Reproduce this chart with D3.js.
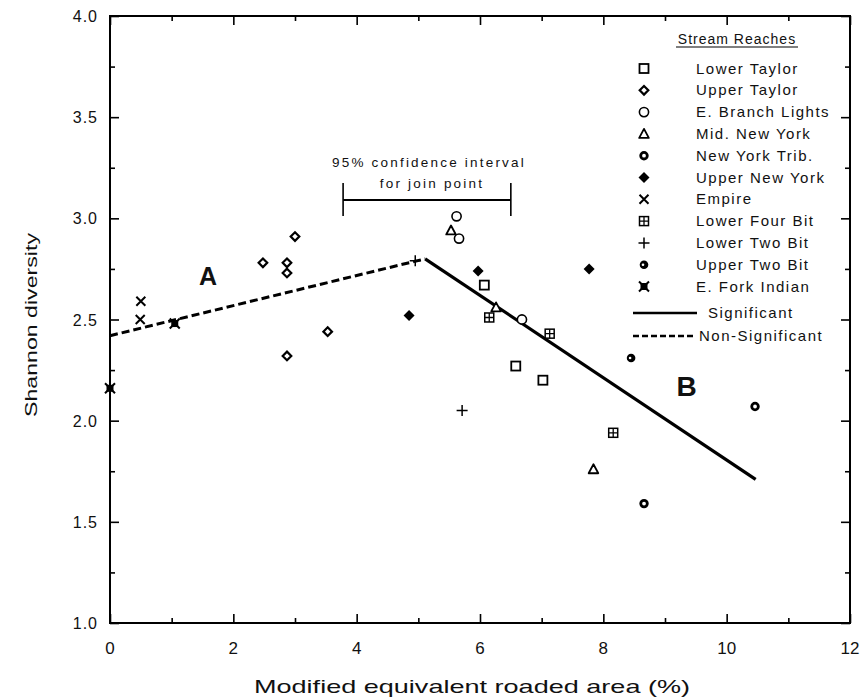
<!DOCTYPE html>
<html>
<head>
<meta charset="utf-8">
<script src="https://cdn.jsdelivr.net/npm/d3@7"></script>
<style>
body { margin: 0; background: #fff; }
text { font-family: "Liberation Sans", Arial, sans-serif; fill: #111; }
</style>
</head>
<body>
<script>
//size of the page
var width = 866;
var height = 700;

//data, one array per stream reach  [x = roaded area %, y = shannon]
var lowerTaylor = [[6.07, 2.67], [6.58, 2.27], [7.02, 2.20]];
var upperTaylor = [[2.48, 2.78], [2.87, 2.78], [2.87, 2.73], [2.87, 2.32], [3.53, 2.44], [3.00, 2.91]];
var eBranchLights = [[5.62, 3.01], [5.66, 2.90], [6.68, 2.50]];
var midNewYork = [[5.53, 2.94], [6.26, 2.56], [7.84, 1.76]];
var newYorkTrib = [[8.66, 1.59], [10.46, 2.07]];
var upperNewYork = [[4.85, 2.52], [5.97, 2.74], [7.77, 2.75]];
var empire = [[0.50, 2.59], [0.49, 2.50]];
var lowerFourBit = [[6.15, 2.51], [7.13, 2.43], [8.16, 1.94]];
var lowerTwoBit = [[5.71, 2.05], [4.95, 2.79]];
var upperTwoBit = [[8.45, 2.31]];
var eForkIndian = [[0.00, 2.16], [1.05, 2.48]];

var reachNames = ["Lower Taylor", "Upper Taylor", "E. Branch Lights", "Mid. New York", "New York Trib.",
                  "Upper New York", "Empire", "Lower Four Bit", "Lower Two Bit", "Upper Two Bit", "E. Fork Indian"];
var reachData = [lowerTaylor, upperTaylor, eBranchLights, midNewYork, newYorkTrib,
                 upperNewYork, empire, lowerFourBit, lowerTwoBit, upperTwoBit, eForkIndian];

//fitted segmented regression
var lineA = [[0, 2.42], [5.11, 2.80]];      //non-significant
var lineB = [[5.11, 2.80], [10.47, 1.71]];  //significant
var ciJoin = [3.78, 6.50];                   //95% CI of the join point
var ciLevel = 3.09;

//axis ticks
var xTicks = [0, 2, 4, 6, 8, 10, 12];
var xMinor = [1, 3, 5, 7, 9, 11];
var yTicks = [1.0, 1.5, 2.0, 2.5, 3.0, 3.5, 4.0];
var yMinor = [1.25, 1.75, 2.25, 2.75, 3.25, 3.75];

//symbol for every reach, same order as reachNames
var symbolKinds = ["square", "diamond", "circle", "triangle", "ring", "fdiamond", "cross", "boxplus", "plus", "dot", "star"];

var svg = d3.select("body").append("svg")
    .attr("width", width)
    .attr("height", height);

var x = d3.scaleLinear().domain([0, 12]).range([110, 850]);
var y = d3.scaleLinear().domain([1, 4]).range([623, 16]);

//frame
svg.append("rect")
    .attr("x", x(0)).attr("y", y(4))
    .attr("width", x(12) - x(0)).attr("height", y(1) - y(4))
    .attr("fill", "none").attr("stroke", "#000").attr("stroke-width", 2);

//ticks, all pointing inward
function ticks(axisFn, scale, vals, size, transform) {
    var g = svg.append("g").attr("transform", transform)
        .call(axisFn(scale).tickValues(vals).tickSize(size).tickFormat(""));
    g.select(".domain").remove();
    g.selectAll("line").attr("stroke", "#000").attr("stroke-width", 1.6);
    return g;
}
ticks(d3.axisBottom, x, xTicks, -9, "translate(0," + y(1) + ")");
ticks(d3.axisBottom, x, xMinor, -5, "translate(0," + y(1) + ")");
ticks(d3.axisTop, x, xTicks, -9, "translate(0," + y(4) + ")");
ticks(d3.axisTop, x, xMinor, -5, "translate(0," + y(4) + ")");
ticks(d3.axisLeft, y, yTicks, -9, "translate(" + x(0) + ",0)");
ticks(d3.axisLeft, y, yMinor, -5, "translate(" + x(0) + ",0)");
ticks(d3.axisRight, y, yTicks, -9, "translate(" + x(12) + ",0)");
ticks(d3.axisRight, y, yMinor, -5, "translate(" + x(12) + ",0)");

//tick labels
svg.append("g").selectAll("text")
    .data(xTicks).enter().append("text")
    .attr("x", function (d) { return x(d); })
    .attr("y", 654)
    .attr("text-anchor", "middle")
    .style("font-size", "17px")
    .text(function (d) { return d; });

svg.append("g").selectAll("text")
    .data(yTicks).enter().append("text")
    .attr("x", 98)
    .attr("y", function (d) { return y(d) + 6; })
    .attr("text-anchor", "end")
    .style("font-size", "16px")
    .style("letter-spacing", "1px")
    .text(function (d) { return d3.format(".1f")(d); });

//axis titles
svg.append("text")
    .attr("x", 472).attr("y", 693)
    .attr("text-anchor", "middle")
    .attr("textLength", 436).attr("lengthAdjust", "spacingAndGlyphs")
    .style("font-size", "19px")
    .text("Modified equivalent roaded area (%)");

svg.append("text")
    .attr("transform", "translate(37,325) rotate(-90)")
    .attr("text-anchor", "middle")
    .attr("textLength", 184).attr("lengthAdjust", "spacingAndGlyphs")
    .style("font-size", "17px")
    .text("Shannon diversity");

//regression lines
var line = d3.line()
    .x(function (d) { return x(d[0]); })
    .y(function (d) { return y(d[1]); });

svg.append("path").datum(lineA)
    .attr("d", line).attr("fill", "none")
    .attr("stroke", "#000").attr("stroke-width", 3)
    .attr("stroke-dasharray", "8,4");

svg.append("path").datum(lineB)
    .attr("d", line).attr("fill", "none")
    .attr("stroke", "#000").attr("stroke-width", 3.2)
    .attr("stroke-linejoin", "miter");

//confidence interval bar
var ci = svg.append("g");
ci.append("line")
    .attr("x1", x(ciJoin[0])).attr("x2", x(ciJoin[1]))
    .attr("y1", y(ciLevel)).attr("y2", y(ciLevel))
    .attr("stroke", "#000").attr("stroke-width", 2);
ci.selectAll(".cap").data(ciJoin).enter().append("line")
    .attr("x1", function (d) { return x(d); }).attr("x2", function (d) { return x(d); })
    .attr("y1", y(ciLevel) - 17).attr("y2", y(ciLevel) + 16)
    .attr("stroke", "#000").attr("stroke-width", 1.6);
ci.append("text")
    .attr("x", 429).attr("y", 167)
    .attr("text-anchor", "middle")
    .style("font-size", "13.5px").style("letter-spacing", "2.2px")
    .text("95% confidence interval");
ci.append("text")
    .attr("x", 432).attr("y", 188)
    .attr("text-anchor", "middle")
    .style("font-size", "13.5px").style("letter-spacing", "2.2px")
    .text("for join point");

//segment labels
svg.append("text").attr("x", x(1.59)).attr("y", y(2.67))
    .attr("text-anchor", "middle")
    .style("font-size", "25px").style("font-weight", "bold")
    .text("A");
svg.append("text").attr("x", x(9.35)).attr("y", y(2.12))
    .attr("text-anchor", "middle")
    .style("font-size", "28px").style("font-weight", "bold")
    .text("B");

//draws one symbol at the origin of the group
function marker(g, kind) {
    var diamond = function (r) { return "M0," + (-r) + "L" + r + ",0L0," + r + "L" + (-r) + ",0Z"; };
    if (kind == "square") {
        g.append("rect").attr("x", -4.5).attr("y", -4.5).attr("width", 9).attr("height", 9)
            .attr("fill", "#fff").attr("stroke", "#000").attr("stroke-width", 1.8);
    } else if (kind == "diamond") {
        g.append("path").attr("d", diamond(4.3))
            .attr("fill", "#fff").attr("stroke", "#000").attr("stroke-width", 2.2);
    } else if (kind == "circle") {
        g.append("circle").attr("r", 4.6)
            .attr("fill", "#fff").attr("stroke", "#000").attr("stroke-width", 1.6);
    } else if (kind == "triangle") {
        g.append("path").attr("d", "M0,-5L4.8,4L-4.8,4Z")
            .attr("fill", "#fff").attr("stroke", "#000").attr("stroke-width", 1.8)
            .attr("stroke-linejoin", "round");
    } else if (kind == "ring") {
        g.append("circle").attr("r", 3.3)
            .attr("fill", "#fff").attr("stroke", "#000").attr("stroke-width", 2.8);
    } else if (kind == "fdiamond") {
        g.append("path").attr("d", diamond(5.5)).attr("fill", "#000");
    } else if (kind == "cross") {
        g.append("path").attr("d", "M-4.5,-4.5L4.5,4.5M-4.5,4.5L4.5,-4.5")
            .attr("stroke", "#000").attr("stroke-width", 2);
    } else if (kind == "boxplus") {
        g.append("rect").attr("x", -4.5).attr("y", -4.5).attr("width", 9).attr("height", 9)
            .attr("fill", "#fff").attr("stroke", "#000").attr("stroke-width", 1.5);
        g.append("path").attr("d", "M0,-4.5V4.5M-4.5,0H4.5")
            .attr("stroke", "#000").attr("stroke-width", 1.3);
    } else if (kind == "plus") {
        g.append("path").attr("d", "M-5.5,0H5.5M0,-5.5V5.5")
            .attr("stroke", "#000").attr("stroke-width", 1.5);
    } else if (kind == "dot") {
        g.append("circle").attr("r", 4.3).attr("fill", "#000");
        g.append("circle").attr("cx", -1).attr("r", 1.3).attr("fill", "#fff");
    } else if (kind == "star") {
        g.append("rect").attr("x", -3.5).attr("y", -3.5).attr("width", 7).attr("height", 7).attr("fill", "#000");
        g.append("path").attr("d", "M-5,-5L5,5M-5,5L5,-5")
            .attr("stroke", "#000").attr("stroke-width", 2);
    }
}

//data points
reachData.forEach(function (pts, i) {
    svg.append("g").selectAll("g")
        .data(pts).enter().append("g")
        .attr("transform", function (d) { return "translate(" + x(d[0]) + "," + y(d[1]) + ")"; })
        .each(function () { marker(d3.select(this), symbolKinds[i]); });
});

//legend
var legend = svg.append("g");
legend.append("text")
    .attr("x", 737).attr("y", 44)
    .attr("text-anchor", "middle")
    .style("font-size", "14px").style("letter-spacing", "1px")
    .text("Stream Reaches");
legend.append("line")
    .attr("x1", 676).attr("x2", 798).attr("y1", 47).attr("y2", 47)
    .attr("stroke", "#000").attr("stroke-width", 1.2);

var rows = legend.selectAll(".row")
    .data(reachNames).enter().append("g")
    .attr("transform", function (d, i) { return "translate(0," + (68.5 + i * 21.8) + ")"; });
rows.append("g").attr("transform", "translate(644,0)")
    .each(function (d, i) { marker(d3.select(this), symbolKinds[i]); });
rows.append("text")
    .attr("x", 696).attr("y", 5)
    .style("font-size", "15px").style("letter-spacing", "1.5px")
    .text(function (d) { return d; });

legend.append("line")
    .attr("x1", 633).attr("x2", 697).attr("y1", 313).attr("y2", 313)
    .attr("stroke", "#000").attr("stroke-width", 2.5);
legend.append("text").attr("x", 708).attr("y", 318)
    .style("font-size", "15px").style("letter-spacing", "1.5px")
    .text("Significant");
legend.append("line")
    .attr("x1", 633).attr("x2", 695).attr("y1", 336).attr("y2", 336)
    .attr("stroke", "#000").attr("stroke-width", 2.5)
    .attr("stroke-dasharray", "6,3");
legend.append("text").attr("x", 699).attr("y", 341)
    .style("font-size", "15px").style("letter-spacing", "1.5px")
    .text("Non-Significant");
</script>
</body>
</html>
